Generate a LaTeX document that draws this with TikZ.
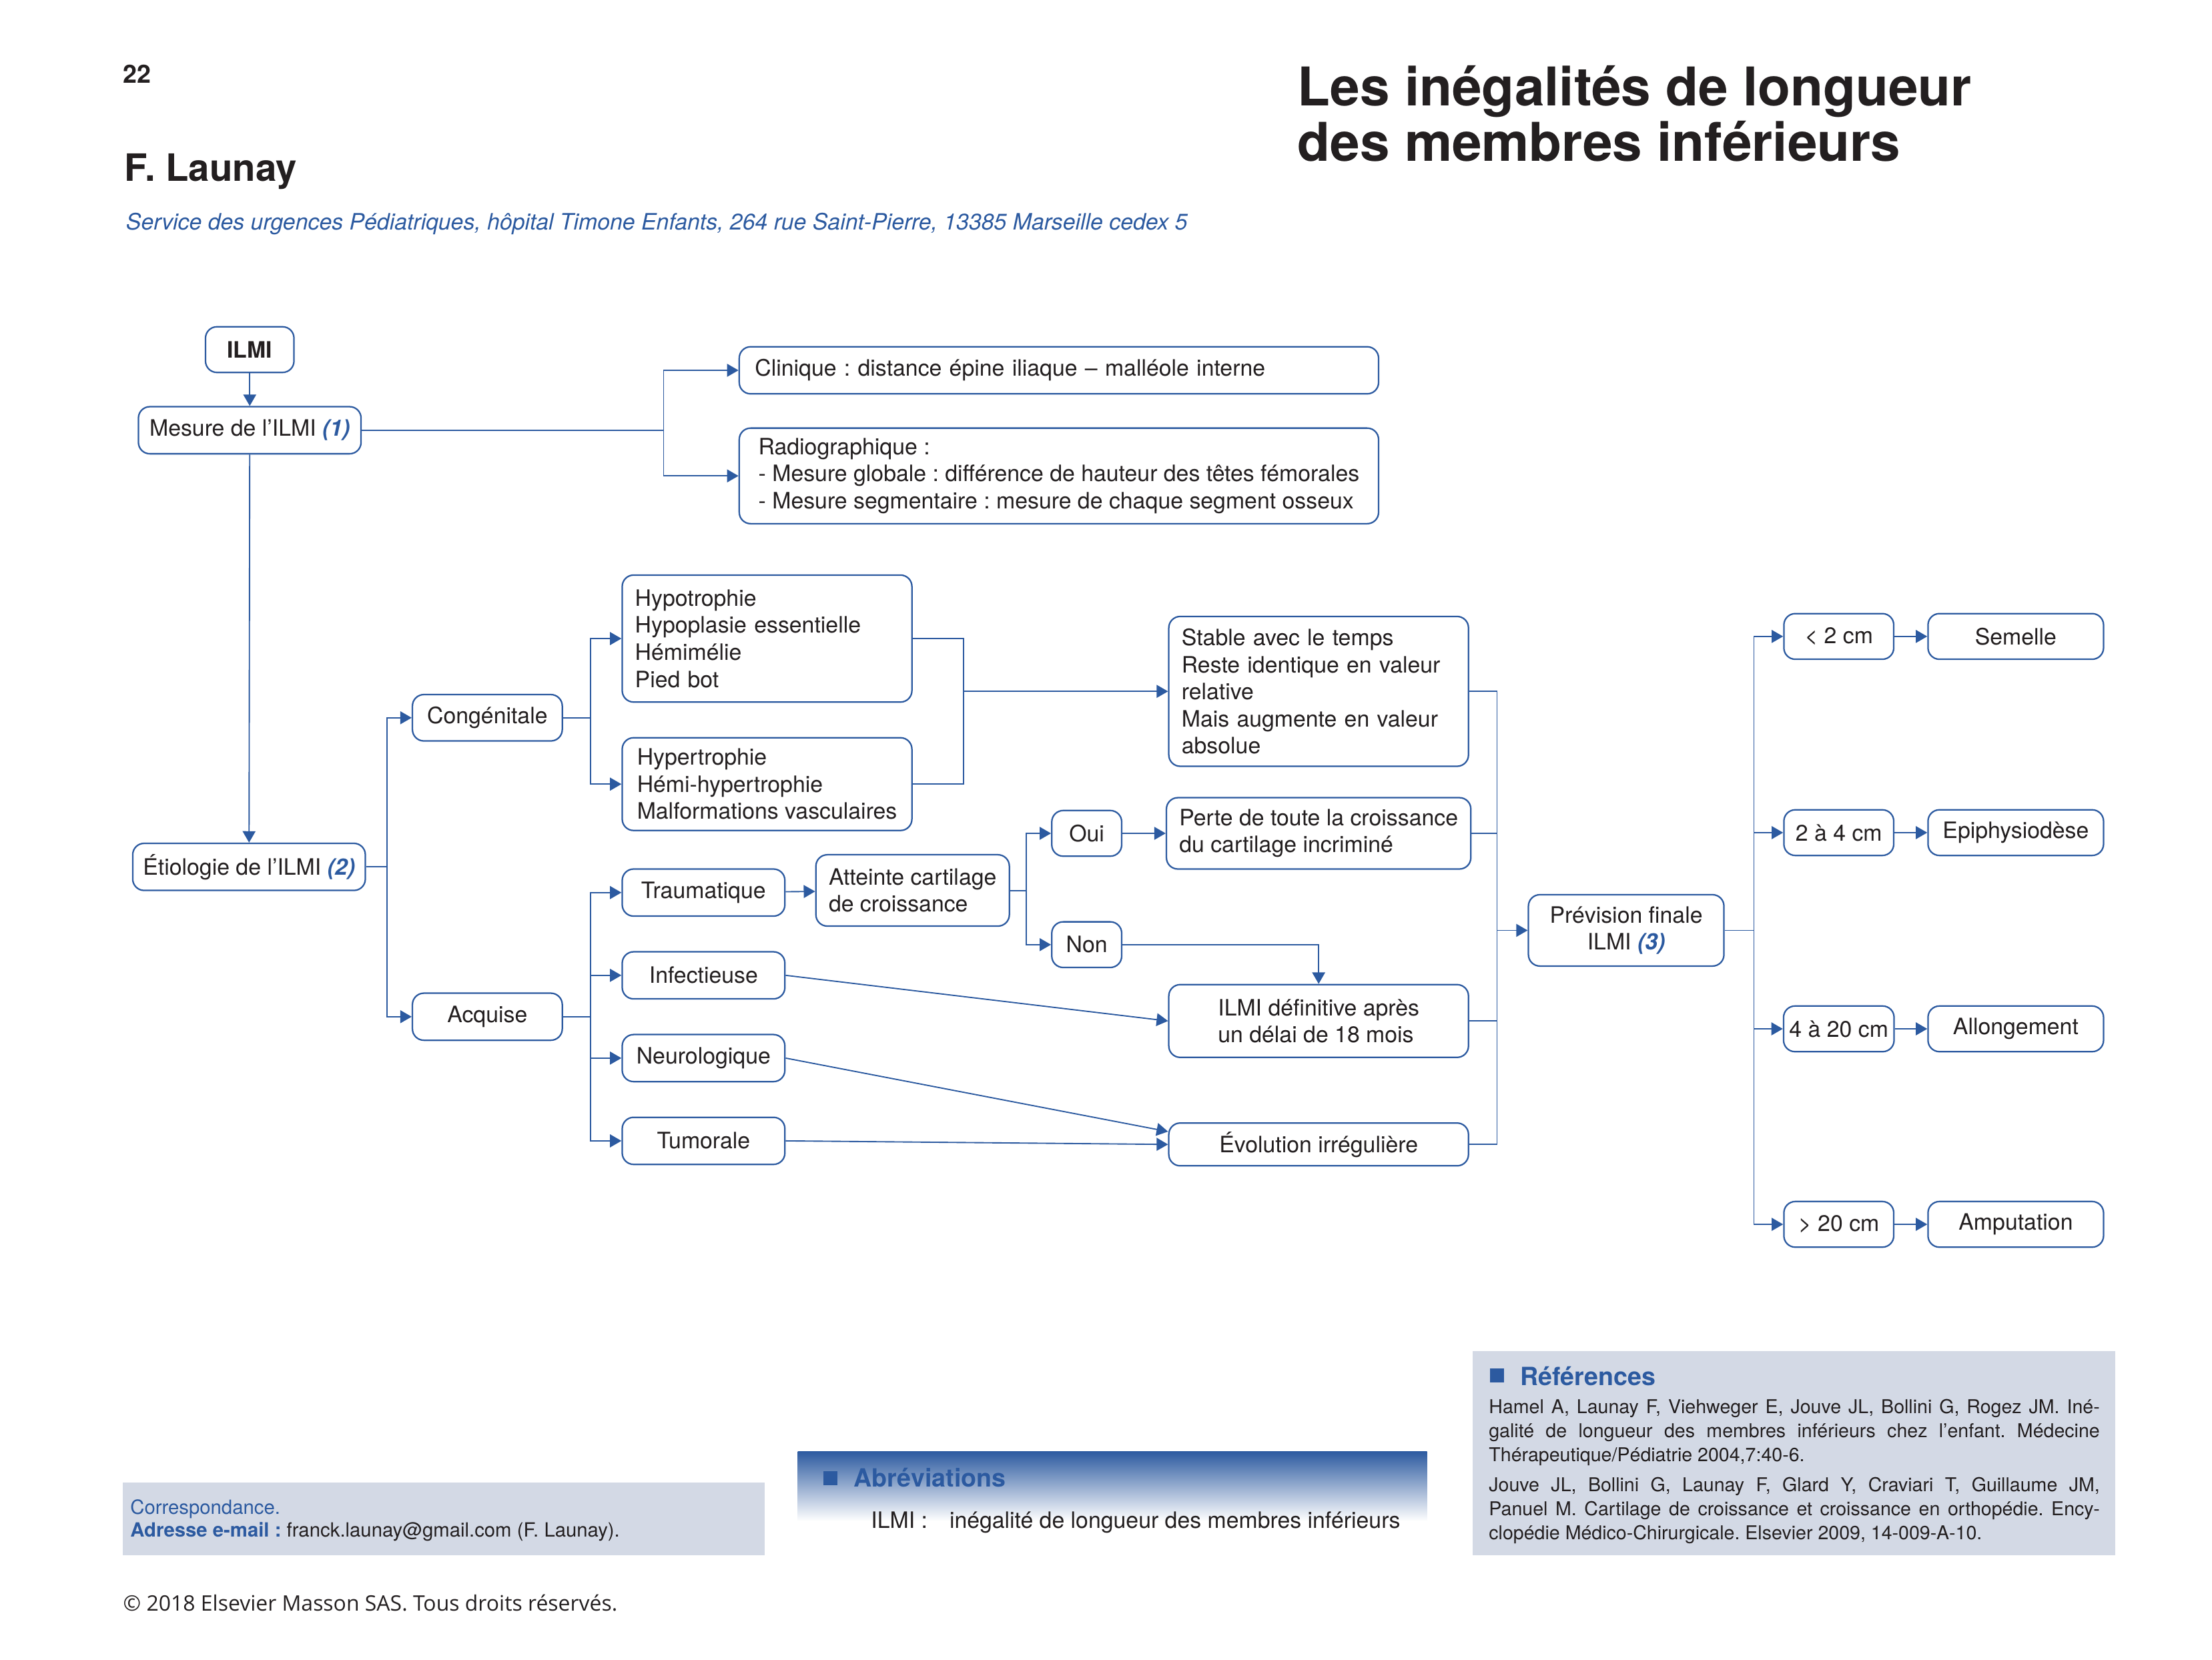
\documentclass[tikz,border=0pt]{standalone}
\usepackage{fontspec}
\setmainfont{TeX Gyre Heros}
\newfontfamily\copyfont{Open Sans}
\usetikzlibrary{arrows.meta,calc}
\frenchspacing

\definecolor{ilmiblue}{RGB}{44,90,160}
\definecolor{panelgray}{RGB}{211,217,229}
\definecolor{inkblack}{RGB}{35,31,32}

\newcommand\diagfont{\fontsize{9}{10.8}\selectfont}
\newcommand\refnum[1]{\textcolor{ilmiblue}{\bfseries\itshape #1}}

\begin{document}
\begin{tikzpicture}[x=0.2mm, y=-0.2mm,
  box/.style = {draw=ilmiblue, line width=.6pt, rounded corners=1.6mm, fill=white, inner sep=.8mm, font=\diagfont, text=inkblack},
  lbox/.style = {box, align=left, inner xsep=1.8mm},
  boxsize/.style 2 args = {minimum width=#1mm, minimum height=#2mm},
  link/.style = {draw=ilmiblue, line width=.5pt},
  arr/.style = {link, -{Triangle[length=1.6mm, width=1.8mm]}},
  txt/.style = {anchor=base west, inner sep=0pt, text=inkblack}]

\useasboundingbox (0,0) rectangle (1550,1163.3);

\node[txt, font=\fontsize{10}{12}\selectfont\bfseries] (page) at (86,58) {22};
\node[txt, font=\fontsize{21.3}{22}\selectfont\bfseries] (title1) at (909,74) {Les inégalités de longueur};
\node[txt, font=\fontsize{21.3}{22}\selectfont\bfseries] (title2) at (909,113) {des membres inférieurs};
\node[txt, font=\fontsize{15}{17}\selectfont\bfseries] (author) at (87,127) {F. Launay};
\node[txt, font=\fontsize{9}{11}\selectfont\itshape, text=ilmiblue] (affil) at (88,161) {Service des urgences Pédiatriques, hôpital Timone Enfants, 264 rue Saint-Pierre, 13385 Marseille cedex 5};

\node[box, boxsize={12.4}{6.4}, font=\diagfont\bfseries] (ilmi) at (175,245) {ILMI};
\node[box, boxsize={31.2}{6.6}] (mesure) at (175,301.5) {Mesure de l’ILMI \refnum{(1)}};
\node[lbox, boxsize={89.6}{6.6}, text width=85.2mm, inner xsep=2.2mm] (clinique) at (742,259.5) {Clinique : distance épine iliaque – malléole interne};
\node[lbox, boxsize={89.6}{13.4}] (radio) at (742,333.5) {Radiographique :\\- Mesure globale : différence de hauteur des têtes fémorales\\- Mesure segmentaire : mesure de chaque segment osseux};
\node[box, boxsize={32.6}{6.6}] (etio) at (174.5,607.5) {Étiologie de l’ILMI \refnum{(2)}};

\node[box, boxsize={21}{6.5}] (cong) at (341.5,503) {Congénitale};
\node[box, boxsize={21}{6.6}] (acq) at (341.5,712.5) {Acquise};
\node[lbox, boxsize={40.6}{17.8}, text width=37mm] (hypo) at (537.5,447.5) {Hypotrophie\\Hypoplasie essentielle\\Hémimélie\\Pied bot};
\node[lbox, boxsize={40.6}{13}] (hyper) at (537.5,549.5) {Hypertrophie\\Hémi-hypertrophie\\Malformations vasculaires};
\node[lbox, boxsize={42}{21}, text width=38.4mm] (stable) at (924,484.5) {Stable avec le temps\\Reste identique en valeur\\relative\\Mais augmente en valeur\\absolue};

\node[box, boxsize={22.8}{6.6}] (trauma) at (493,625.5) {Traumatique};
\node[box, boxsize={22.8}{6.6}] (infect) at (493,683.5) {Infectieuse};
\node[box, boxsize={22.8}{6.6}] (neuro) at (493,741.5) {Neurologique};
\node[box, boxsize={22.8}{6.6}] (tumor) at (493,799.5) {Tumorale};
\node[lbox, boxsize={26.6}{10}] (atteinte) at (639.5,624) {Atteinte cartilage\\de croissance};
\node[box, boxsize={9.8}{6.4}] (oui) at (761.5,584) {Oui};
\node[box, boxsize={9.8}{6.4}] (non) at (761.5,662) {Non};
\node[lbox, boxsize={42}{10}] (perte) at (924,584) {Perte de toute la croissance\\du cartilage incriminé};
\node[lbox, boxsize={42}{10.2}] (ilmidef) at (924,715.5) {ILMI définitive après\\un délai de 18 mois};
\node[box, boxsize={42}{6}] (evol) at (924,802) {Évolution irrégulière};

\node[box, boxsize={27.4}{10}, align=center] (prev) at (1139.5,652) {Prévision finale\\ILMI \refnum{(3)}};
\node[box, boxsize={15.4}{6.4}] (lt2) at (1288.5,446) {< 2 cm};
\node[box, boxsize={15.4}{6.4}] (d24) at (1288.5,583.5) {2 à 4 cm};
\node[box, boxsize={15.4}{6.4}] (d420) at (1288.5,721) {4 à 20 cm};
\node[box, boxsize={15.4}{6.4}] (gt20) at (1288.5,858) {> 20 cm};
\node[box, boxsize={24.6}{6.4}] (semelle) at (1412.5,446) {Semelle};
\node[box, boxsize={24.6}{6.4}] (epi) at (1412.5,583.5) {Epiphysiodèse};
\node[box, boxsize={24.6}{6.4}] (allong) at (1412.5,721) {Allongement};
\node[box, boxsize={24.6}{6.4}] (amput) at (1412.5,858) {Amputation};

\coordinate (j1) at (465,301.5);
\coordinate (j2) at (271,607.5);
\coordinate (j3) at (414,503);
\coordinate (j4) at (675,484.5);
\coordinate (j5) at (414,712.5);
\coordinate (j6) at (719,624);
\coordinate (j7) at (1049,652);
\coordinate (j8) at (1229,652);

\draw[arr] (ilmi) -- (mesure);
\draw[link] (mesure) -- (j1);
\draw[arr] (j1) |- (clinique);
\draw[arr] (j1) |- (radio);
\draw[arr] (mesure) -- (etio);

\draw[link] (etio) -- (j2);
\draw[arr] (j2) |- (cong);
\draw[arr] (j2) |- (acq);
\draw[link] (cong) -- (j3);
\draw[arr] (j3) |- (hypo);
\draw[arr] (j3) |- (hyper);
\draw[link] (hypo) -| (j4);
\draw[link] (hyper) -| (j4);
\draw[arr] (j4) -- (stable);

\draw[link] (acq) -- (j5);
\draw[arr] (j5) |- (trauma);
\draw[arr] (j5) |- (infect);
\draw[arr] (j5) |- (neuro);
\draw[arr] (j5) |- (tumor);
\draw[arr] (trauma) -- (atteinte);
\draw[link] (atteinte) -- (j6);
\draw[arr] (j6) |- (oui);
\draw[arr] (j6) |- (non);
\draw[arr] (oui) -- (perte);
\draw[arr] (non) -| (ilmidef);
\draw[arr] (infect.east) -- (ilmidef.west);
\draw[arr] (neuro.east) -- ($(evol.west)+(0,-9)$);
\draw[arr] (tumor.east) -- (evol.west);

\draw[link] (stable) -| (j7);
\draw[link] (perte) -| (j7);
\draw[link] (ilmidef) -| (j7);
\draw[link] (evol) -| (j7);
\draw[arr] (j7) -- (prev);
\draw[link] (prev) -- (j8);
\draw[arr] (j8) |- (lt2);
\draw[arr] (j8) |- (d24);
\draw[arr] (j8) |- (d420);
\draw[arr] (j8) |- (gt20);
\draw[arr] (lt2) -- (semelle);
\draw[arr] (d24) -- (epi);
\draw[arr] (d420) -- (allong);
\draw[arr] (gt20) -- (amput);

\fill[panelgray] (86,1039) rectangle (536,1090);
\node[txt, font=\fontsize{7.8}{9.4}\selectfont, text=ilmiblue] (corresp) at (91,1061) {Correspondance.};
\node[txt, font=\fontsize{7.8}{9.4}\selectfont] (email) at (91,1077) {\textcolor{ilmiblue}{\bfseries Adresse e-mail :} franck.launay@gmail.com (F. Launay).};

\shade[top color=ilmiblue, bottom color=white] (559,1017) rectangle (1000,1066);
\fill[ilmiblue] (577,1031) rectangle (587,1041);
\node[txt, font=\fontsize{10}{12}\selectfont\bfseries, text=ilmiblue] (abbrev) at (598,1042) {Abréviations};
\node[txt, font=\diagfont] (abbrevkey) at (610,1071) {ILMI :};
\node[txt, font=\diagfont] (abbrevval) at (665,1071) {inégalité de longueur des membres inférieurs};

\fill[panelgray] (1032,947) rectangle (1482,1090);
\fill[ilmiblue] (1044,959) rectangle (1054,969);
\node[txt, font=\fontsize{10}{12}\selectfont\bfseries, text=ilmiblue] (refs) at (1065,971) {Références};
\node[anchor=north west, inner sep=0pt, text width=85.6mm, align=justify, text=inkblack, font=\fontsize{7.6}{9.6}\selectfont] (ref1) at (1043,980) {Hamel A, Launay F, Viehweger E, Jouve JL, Bollini G, Rogez JM. Iné-\linebreak galité de longueur des membres inférieurs chez l’enfant. Médecine\linebreak Thérapeutique/Pédiatrie 2004,7:40-6.};
\node[anchor=north west, inner sep=0pt, text width=85.6mm, align=justify, text=inkblack, font=\fontsize{7.6}{9.6}\selectfont] (ref2) at (1043,1035) {Jouve JL, Bollini G, Launay F, Glard Y, Craviari T, Guillaume JM,\linebreak Panuel M. Cartilage de croissance et croissance en orthopédie. Ency-\linebreak clopédie Médico-Chirurgicale. Elsevier 2009, 14-009-A-10.};

\node[txt, font=\copyfont\fontsize{8.5}{10}\selectfont] (copyright) at (86,1129) {© 2018 Elsevier Masson SAS. Tous droits réservés.};

\end{tikzpicture}
\end{document}
